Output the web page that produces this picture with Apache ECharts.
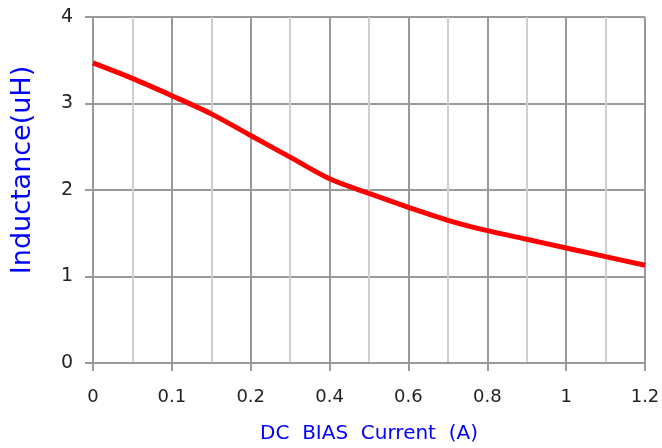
<!DOCTYPE html>
<html>
<head>
<meta charset="utf-8">
<script src="https://cdn.jsdelivr.net/npm/echarts@6/dist/echarts.min.js"></script>
<style>
  html, body { margin: 0; padding: 0; background: #fff; }
  #chart { width: 662px; height: 448px; }
</style>
</head>
<body>
<div id="chart"></div>
<script>
// x positions are evenly spaced categories; odd ones are the light minor lines
var currents = ['0', '0.05', '0.1', '0.15', '0.2', '0.3', '0.4', '0.5', '0.6', '0.7', '0.8', '0.9', '1', '1.1', '1.2'];
var inductance = [3.47, 3.29, 3.09, 2.88, 2.63, 2.38, 2.13, 1.96, 1.80, 1.65, 1.53, 1.43, 1.33, 1.23, 1.13];
var yTicks = [0, 1, 2, 3, 4];

var chart = echarts.init(document.getElementById('chart'));

var option = {
  animation: false,
  grid: { left: 93, right: 17, top: 17, bottom: 85, outerBoundsMode: 'none' },
  xAxis: {
    type: 'category',
    data: currents,
    boundaryGap: false,
    name: 'DC  BIAS  Current  (A)',
    nameLocation: 'middle',
    nameGap: 61,
    nameTextStyle: { color: '#0000ff', fontSize: 20, fontFamily: 'DejaVu Sans' },
    axisLine: { lineStyle: { color: '#9a9a9a', width: 2 } },
    axisTick: { interval: 1, length: 8, lineStyle: { color: '#9a9a9a', width: 2 } },
    axisLabel: { interval: 1, margin: 25, color: '#222', fontSize: 18, fontFamily: 'DejaVu Sans' },
    splitLine: { show: true, interval: 0, lineStyle: { color: ['#9a9a9a', '#cfcfcf'], width: 2 } }
  },
  yAxis: {
    type: 'value',
    min: yTicks[0],
    max: yTicks[yTicks.length - 1],
    interval: 1,
    name: 'Inductance(uH)',
    nameLocation: 'middle',
    nameGap: 57,
    // left padding pushes the rotated title up a little, as in the original
    nameTextStyle: { color: '#0000ff', fontSize: 27, fontFamily: 'DejaVu Sans', padding: [0, 0, 0, 40] },
    axisLine: { show: true, lineStyle: { color: '#9a9a9a', width: 2 } },
    axisTick: { show: true, length: 8, lineStyle: { color: '#9a9a9a', width: 2 } },
    axisLabel: { margin: 20, color: '#222', fontSize: 19, fontFamily: 'DejaVu Sans' },
    splitLine: { show: true, lineStyle: { color: '#9a9a9a', width: 2 } }
  },
  series: [{
    type: 'line',
    data: inductance,
    smooth: 0.3,
    symbol: 'none',
    lineStyle: { color: '#ff0000', width: 5 }
  }]
};

chart.setOption(option);
</script>
</body>
</html>
